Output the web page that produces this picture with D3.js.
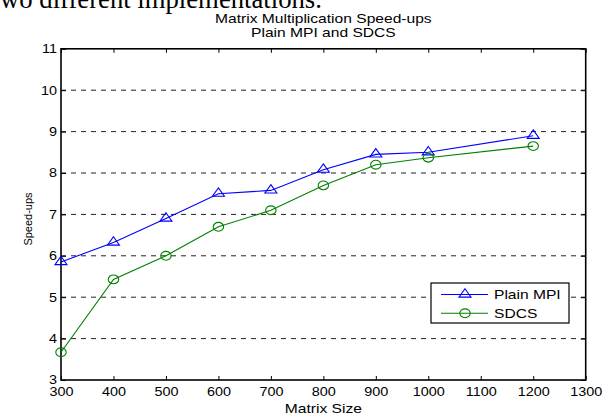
<!DOCTYPE html>
<html>
<head>
<meta charset="utf-8">
<title>Matrix Multiplication Speed-ups</title>
<script src="https://d3js.org/d3.v7.min.js"></script>
<style>
  body { margin: 0; background: #fff; }
  svg { display: block; font-family: "Liberation Sans", Arial, sans-serif; }
</style>
</head>
<body>
<div id="chart"></div>
<script>
// data
var sizes   = [300, 400, 500, 600, 700, 800, 900, 1000, 1200];
var plainMpi = [5.85, 6.32, 6.9, 7.5, 7.58, 8.08, 8.45, 8.5, 8.9];
var sdcs     = [3.67, 5.43, 6.0, 6.7, 7.1, 7.7, 8.2, 8.37, 8.65];
var xTicks = [300, 400, 500, 600, 700, 800, 900, 1000, 1100, 1200, 1300];
var yTicks = [3, 4, 5, 6, 7, 8, 9, 10, 11];
var seriesNames = ["Plain MPI", "SDCS"];

var width = 609, height = 415;
var plotL = 61, plotR = 585.7, plotT = 48.8, plotB = 380;
var sx = 1.2; // the picture is stretched sideways a little

var svg = d3.select("#chart").append("svg")
    .attr("width", width)
    .attr("height", height)
    .style("background", "#fff");

// cut-off line of body text above the figure
var head = svg.append("text")
    .attr("x", 0)
    .attr("y", 8)
    .style("font-family", "'Liberation Serif', 'Times New Roman', serif")
    .style("font-size", "26px")
    .attr("fill", "#000")
    .text("wo different implementations.");
var hw = head.node().getComputedTextLength();
head.style("font-size", (26 * 322 / hw) + "px");

var x = d3.scaleLinear().domain([300, 1300]).range([plotL, plotR]);
var y = d3.scaleLinear().domain([3, 11]).range([plotB, plotT]);

// dashed grid lines
svg.append("g")
  .selectAll("line")
  .data(yTicks.slice(1, -1))
  .enter().append("line")
    .attr("x1", plotL).attr("x2", plotR)
    .attr("y1", function(d) { return y(d); })
    .attr("y2", function(d) { return y(d); })
    .attr("stroke", "#222")
    .attr("stroke-width", 1)
    .attr("stroke-dasharray", "5,5");

// axes, ticks pointing inward
svg.append("g")
    .attr("transform", "translate(0," + plotB + ")")
    .call(d3.axisBottom(x).tickValues(xTicks).tickSize(-4).tickPadding(7).tickFormat(d3.format("d")));
svg.append("g")
    .attr("transform", "translate(0," + plotT + ")")
    .call(d3.axisTop(x).tickValues(xTicks).tickSize(-4).tickFormat(""));
svg.append("g")
    .attr("transform", "translate(" + plotL + ",0)")
    .call(d3.axisLeft(y).tickValues(yTicks).tickSize(-5).tickPadding(3.3).tickFormat(d3.format("d")));
svg.append("g")
    .attr("transform", "translate(" + plotR + ",0)")
    .call(d3.axisRight(y).tickValues(yTicks).tickSize(-5).tickFormat(""));

svg.selectAll(".domain").remove();
svg.selectAll(".tick line").attr("stroke", "#000");
svg.selectAll(".tick text")
    .attr("fill", "#000")
    .style("font-size", "12px")
    .attr("transform", "scale(" + sx + ",1)");

// box
svg.append("rect")
    .attr("x", plotL).attr("y", plotT)
    .attr("width", plotR - plotL).attr("height", plotB - plotT)
    .attr("fill", "none")
    .attr("stroke", "#000")
    .attr("stroke-width", 1.6);

// titles
var t = svg.append("g").attr("transform", "translate(" + ((plotL + plotR) / 2) + ",0)");
t.append("text").attr("y", 23).attr("text-anchor", "middle")
    .attr("transform", "scale(" + sx + ",1)")
    .style("font-size", "13px").text("Matrix Multiplication Speed-ups");
t.append("text").attr("y", 37.5).attr("text-anchor", "middle")
    .attr("transform", "scale(" + sx + ",1)")
    .style("font-size", "13px").text("Plain MPI and SDCS");
t.append("text").attr("y", 413).attr("text-anchor", "middle")
    .attr("transform", "scale(" + sx + ",1)")
    .style("font-size", "13px").text("Matrix Size");

svg.append("text")
    .attr("transform", "translate(31.5,219) rotate(-90)")
    .attr("text-anchor", "middle")
    .style("font-size", "11px")
    .text("Speed-ups");

// markers
var triangle = "M0,-5.8L6,2.6L-6,2.6Z";
function addTriangles(g, pts, color) {
  g.selectAll("path.m").data(pts).enter().append("path")
    .attr("class", "m")
    .attr("d", triangle)
    .attr("transform", function(d) { return "translate(" + d[0] + "," + d[1] + ")"; })
    .attr("fill", "none").attr("stroke", color).attr("stroke-width", 1.1);
}
function addCircles(g, pts, color) {
  g.selectAll("ellipse").data(pts).enter().append("ellipse")
    .attr("cx", function(d) { return d[0]; })
    .attr("cy", function(d) { return d[1]; })
    .attr("rx", 5.2).attr("ry", 4.4)
    .attr("fill", "none").attr("stroke", color).attr("stroke-width", 1.1);
}

var line = d3.line();
var ptsA = sizes.map(function(s, i) { return [x(s), y(plainMpi[i])]; });
var ptsB = sizes.map(function(s, i) { return [x(s), y(sdcs[i])]; });

var gA = svg.append("g");
gA.append("path").attr("d", line(ptsA)).attr("fill", "none")
    .attr("stroke", "#0000ff").attr("stroke-width", 1.1);
addTriangles(gA, ptsA, "#0000ff");

var gB = svg.append("g");
gB.append("path").attr("d", line(ptsB)).attr("fill", "none")
    .attr("stroke", "#008000").attr("stroke-width", 1.1);
addCircles(gB, ptsB, "#008000");

// legend
var lg = svg.append("g");
lg.append("rect")
    .attr("x", 431).attr("y", 283).attr("width", 138).attr("height", 40)
    .attr("fill", "#fff").attr("stroke", "#000").attr("stroke-width", 1.2);
var rows = [
  { name: seriesNames[0], color: "#0000ff", y: 294.5, mark: "tri" },
  { name: seriesNames[1], color: "#008000", y: 313.3, mark: "circ" }
];
rows.forEach(function(r) {
  lg.append("line").attr("x1", 441).attr("x2", 488)
    .attr("y1", r.y).attr("y2", r.y)
    .attr("stroke", r.color).attr("stroke-width", 1.1);
  if (r.mark == "tri") addTriangles(lg.append("g"), [[465, r.y]], r.color);
  else addCircles(lg.append("g"), [[465, r.y]], r.color);
  lg.append("g").attr("transform", "translate(494,0)")
    .append("text").attr("y", r.y + 4.5)
    .attr("transform", "scale(" + sx + ",1)")
    .style("font-size", "13px").text(r.name);
});
</script>
</body>
</html>
